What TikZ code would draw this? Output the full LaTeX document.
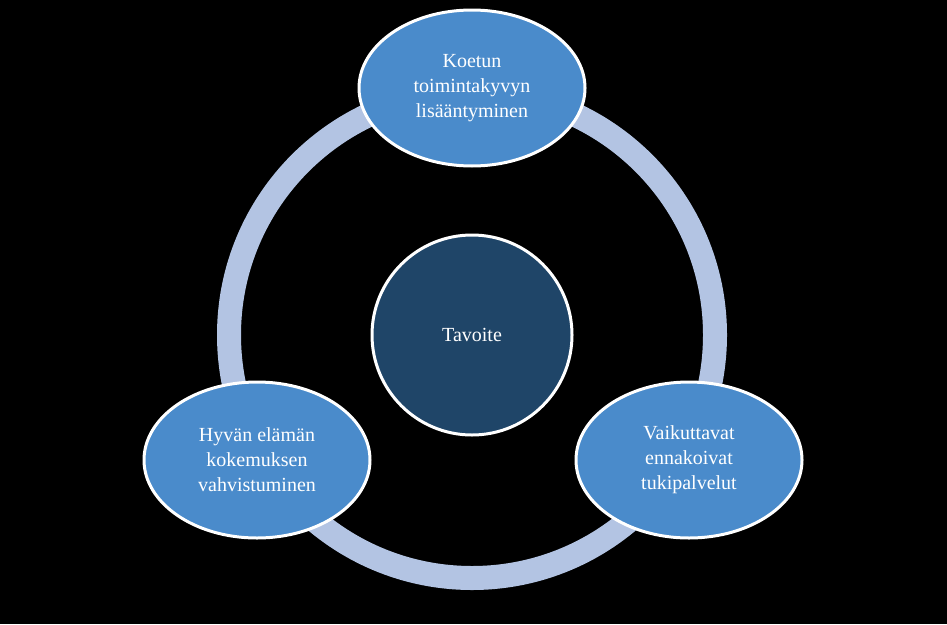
\documentclass[tikz,border=0pt]{standalone}
\usepackage{fontspec}
\setmainfont{Liberation Serif}
\definecolor{ringc}{HTML}{B3C4E3}
\definecolor{outerc}{HTML}{4A8BCB}
\definecolor{centc}{HTML}{1F4568}
\begin{document}
\begin{tikzpicture}[x=1pt,y=-1pt,
  lbl/.style={text=white,align=center,font=\fontsize{20}{25}\selectfont},
  outer/.style={ellipse,draw=white,line width=3pt,fill=outerc,minimum width=226pt,minimum height=156pt,lbl}]
\usetikzlibrary{shapes.geometric}
\fill[black] (0,0) rectangle (947,624);
\useasboundingbox (0,0) rectangle (947,624);
\coordinate (c) at (472,335);
\draw[ringc,line width=24pt] (c) circle[radius=243];
\node[circle,draw=white,line width=3pt,fill=centc,minimum size=200pt,lbl] (goal) at (c) {Tavoite};
\node[outer] (top) at (472,88) {Koetun\\toimintakyvyn\\lisääntyminen};
\node[outer] (left) at (257,460) {Hyvän elämän\\kokemuksen\\vahvistuminen};
\node[outer] (right) at (689,460) {Vaikuttavat\\ennakoivat\\tukipalvelut};
\end{tikzpicture}
\end{document}
